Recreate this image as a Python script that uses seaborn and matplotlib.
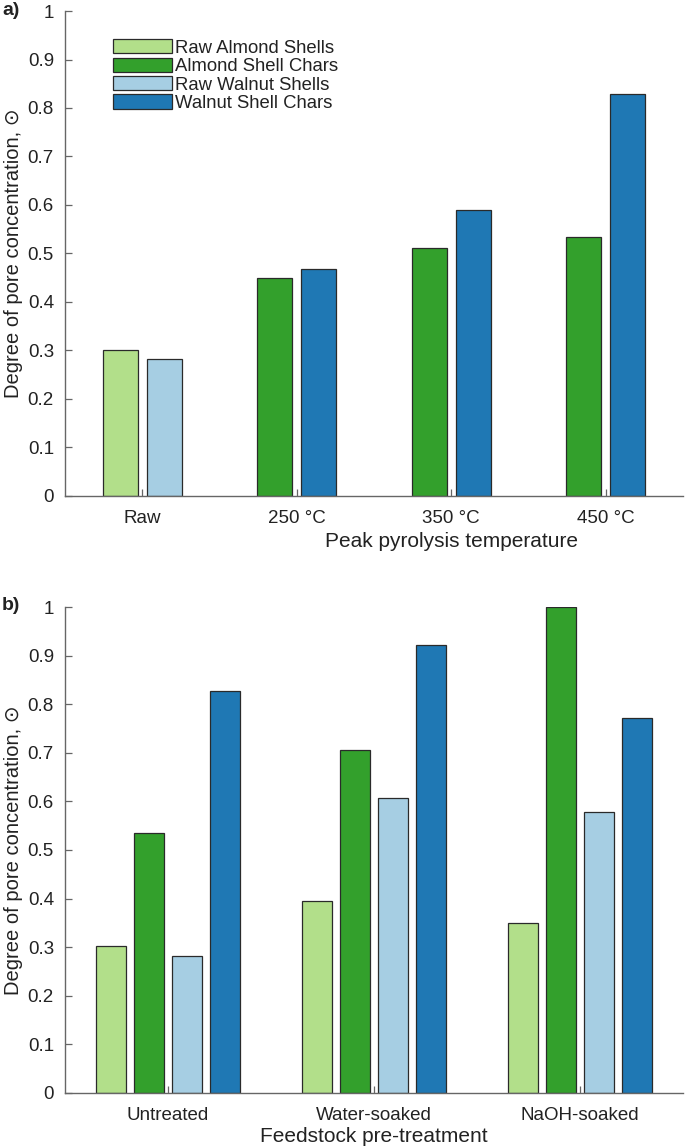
import matplotlib
matplotlib.use("Agg")
import matplotlib.pyplot as plt
from matplotlib.patches import Patch
import seaborn as sns
import pandas as pd

# ---- data ----
series_names = ["Raw Almond Shells", "Almond Shell Chars", "Raw Walnut Shells", "Walnut Shell Chars"]
series_colors = ["#b2df8a", "#33a02c", "#a6cee3", "#1f78b4"]

# panel a: two bars per group
a_categories = ["Raw", "250 \u00b0C", "350 \u00b0C", "450 \u00b0C"]
a_left_series = ["Raw Almond Shells", "Almond Shell Chars", "Almond Shell Chars", "Almond Shell Chars"]
a_right_series = ["Raw Walnut Shells", "Walnut Shell Chars", "Walnut Shell Chars", "Walnut Shell Chars"]
a_left_values = [0.302, 0.450, 0.512, 0.535]
a_right_values = [0.282, 0.469, 0.589, 0.828]

# panel b: four bars per group
b_categories = ["Untreated", "Water-soaked", "NaOH-soaked"]
b_raw_almond = [0.302, 0.396, 0.350]
b_almond_chars = [0.535, 0.706, 1.000]
b_raw_walnut = [0.282, 0.608, 0.578]
b_walnut_chars = [0.828, 0.922, 0.772]

yticks = [0, 0.1, 0.2, 0.3, 0.4, 0.5, 0.6, 0.7, 0.8, 0.9, 1.0]
ytick_labels = ["0", "0.1", "0.2", "0.3", "0.4", "0.5", "0.6", "0.7", "0.8", "0.9", "1"]

sns.set_theme(style="white")
plt.rcParams["font.family"] = ["Liberation Sans", "DejaVu Sans"]

color_of = dict(zip(series_names, series_colors))
edge = "#2a2a2a"
spine_c = "#666666"
text_c = "#222222"

fig = plt.figure(figsize=(6.85, 11.46), dpi=100)
axa = fig.add_axes([0.0949, 0.5672, 0.902, 0.4232])
axb = fig.add_axes([0.0949, 0.0463, 0.902, 0.4240])

# ---- panel a ----
dfa = pd.DataFrame({
    "cat": a_categories * 2,
    "slot": ["L"] * 4 + ["R"] * 4,
    "val": a_left_values + a_right_values,
})
sns.barplot(data=dfa, x="cat", y="val", hue="slot", order=a_categories, hue_order=["L", "R"],
            width=0.57, gap=0.2, edgecolor=edge, linewidth=0.9, legend=False, ax=axa,
            palette=["#ffffff", "#ffffff"])
slot_series = a_left_series + a_right_series
for p, s in zip(axa.patches, slot_series):
    p.set_facecolor(color_of[s])
axa.set_xlabel("Peak pyrolysis temperature", fontsize=15, color=text_c)

# ---- panel b ----
dfb = pd.DataFrame({
    "cat": b_categories * 4,
    "series": sum([[s] * 3 for s in series_names], []),
    "val": b_raw_almond + b_almond_chars + b_raw_walnut + b_walnut_chars,
})
sns.barplot(data=dfb, x="cat", y="val", hue="series", order=b_categories, hue_order=series_names,
            palette=series_colors, width=0.735, gap=0.21, edgecolor=edge, linewidth=0.9,
            legend=False, ax=axb, saturation=1)
axb.set_xlabel("Feedstock pre-treatment", fontsize=15, color=text_c)

for ax, n in ((axa, len(a_categories)), (axb, len(b_categories))):
    ax.set_xlim(-0.5, n - 0.5)
    ax.set_ylim(0, 1.0)
    ax.set_yticks(yticks)
    ax.set_yticklabels(ytick_labels)
    ax.set_ylabel("Degree of pore concentration, \u2299", fontsize=14.5, labelpad=3, color=text_c)
    for sp in ("top", "right"):
        ax.spines[sp].set_visible(False)
    for sp in ("left", "bottom"):
        ax.spines[sp].set_color(spine_c)
        ax.spines[sp].set_linewidth(1.0)
    ax.tick_params(axis="y", direction="in", length=5, width=0.9, color=spine_c,
                   labelsize=13.5, pad=8, left=True, labelcolor=text_c)
    ax.tick_params(axis="x", direction="in", length=5, width=0.9, color=spine_c,
                   labelsize=13.5, pad=10, bottom=True, labelcolor=text_c)

# x-label placement (axes fraction, top of text)
axa.xaxis.set_label_coords(0.626, -0.074)
axb.xaxis.set_label_coords(0.500, -0.070)

handles = [Patch(facecolor=c, edgecolor=edge, linewidth=0.9, label=s)
           for s, c in zip(series_names, series_colors)]
axa.legend(handles=handles, loc="upper left", bbox_to_anchor=(0.065, 0.957), frameon=False,
           fontsize=13.3, handlelength=3.2, handleheight=0.8, labelspacing=0.05,
           handletextpad=0.2, borderaxespad=0, labelcolor=text_c)

fig.text(0.003, 0.9905, "a)", fontsize=14, fontweight="bold", va="center", ha="left", color=text_c)
fig.text(0.003, 0.472, "b)", fontsize=14, fontweight="bold", va="center", ha="left", color=text_c)

fig.savefig("out.png", dpi=100)
